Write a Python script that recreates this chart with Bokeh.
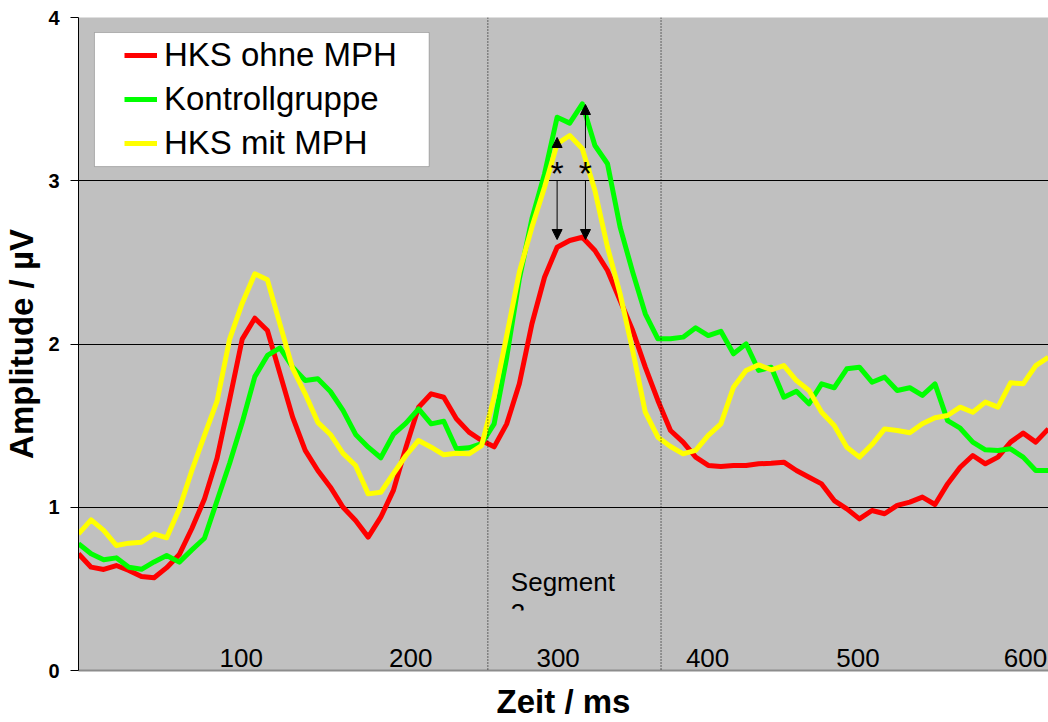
from bokeh.plotting import figure
from bokeh.models import (Range1d, FixedTicker, Span, Arrow, NormalHead, Label,
                          Legend, LegendItem, BoxAnnotation)
from bokeh.embed import file_html
from bokeh.resources import INLINE
from bokeh.core.properties import value

# ---------------- data ----------------
time_ms = list(range(-4, 613, 8))

hks_ohne_mph = [0.715, 0.633, 0.619, 0.643, 0.613, 0.576, 0.568, 0.63, 0.71, 0.87,
                1.05, 1.30, 1.66, 2.03, 2.158, 2.083, 1.817, 1.552, 1.348, 1.225,
                1.123, 1.0, 0.919, 0.817, 0.939, 1.103, 1.368, 1.613, 1.695, 1.674,
                1.542, 1.46, 1.409, 1.37, 1.511, 1.756, 2.124, 2.409, 2.593, 2.634,
                2.654, 2.573, 2.45, 2.266, 2.083, 1.858, 1.654, 1.47, 1.399, 1.307,
                1.256, 1.25, 1.256, 1.256, 1.266, 1.27, 1.276, 1.225, 1.184, 1.143,
                1.041, 0.99, 0.929, 0.98, 0.96, 1.011, 1.031, 1.062, 1.017, 1.143,
                1.245, 1.317, 1.266, 1.307, 1.399, 1.454, 1.399, 1.48]

kontrollgruppe = [0.776, 0.715, 0.678, 0.69, 0.633, 0.62, 0.665, 0.704, 0.664, 0.739,
                  0.81, 1.04, 1.27, 1.52, 1.80, 1.93, 1.976, 1.858, 1.776, 1.787,
                  1.709, 1.593, 1.446, 1.368, 1.303, 1.446, 1.515, 1.603, 1.511, 1.527,
                  1.358, 1.364, 1.389, 1.511, 1.919, 2.399, 2.767, 3.042, 3.389, 3.353,
                  3.471, 3.216, 3.104, 2.716, 2.44, 2.185, 2.032, 2.032, 2.042, 2.099,
                  2.052, 2.078, 1.94, 2.001, 1.838, 1.858, 1.674, 1.711, 1.634, 1.756,
                  1.732, 1.848, 1.858, 1.766, 1.797, 1.715, 1.732, 1.685, 1.756, 1.531,
                  1.484, 1.399, 1.352, 1.348, 1.358, 1.307, 1.225, 1.225]

hks_mit_mph = [0.837, 0.923, 0.858, 0.766, 0.78, 0.786, 0.837, 0.813, 0.99, 1.225,
               1.44, 1.65, 2.03, 2.25, 2.43, 2.393, 2.12, 1.85, 1.695, 1.52,
               1.446, 1.33, 1.256, 1.082, 1.092, 1.205, 1.317, 1.409, 1.368, 1.321,
               1.331, 1.327, 1.378, 1.674, 2.052, 2.44, 2.716, 2.96, 3.226, 3.277,
               3.196, 2.94, 2.593, 2.307, 1.96, 1.582, 1.429, 1.372, 1.327, 1.348,
               1.44, 1.511, 1.735, 1.838, 1.872, 1.842, 1.868, 1.776, 1.715, 1.582,
               1.501, 1.368, 1.307, 1.384, 1.48, 1.47, 1.456, 1.511, 1.548, 1.562,
               1.613, 1.582, 1.644, 1.613, 1.762, 1.756, 1.868, 1.919]

series_names = ["HKS ohne MPH", "Kontrollgruppe", "HKS mit MPH"]
series_values = [hks_ohne_mph, kontrollgruppe, hks_mit_mph]
series_colors = ["#FF0000", "#00FF00", "#FFFF00"]

y_ticks = [0, 1, 2, 3, 4]
x_tick_labels = [100, 200, 300, 400, 500, 600]
segment_bounds = [256, 366]
arrow_x = [300, 318]
arrow_upper = [3.265, 3.467]
arrow_lower = [2.64, 2.64]

FONT = "Liberation Sans"

# ---------------- figure ----------------
p = figure(width=1048, height=722, title=None,
           x_range=Range1d(-4, 612.1), y_range=Range1d(0, 4),
           output_backend="svg", toolbar_location=None,
           min_border_left=77, min_border_right=0,
           min_border_top=17, min_border_bottom=52,
           background_fill_color="#C0C0C0", border_fill_color="white",
           outline_line_color=None)

# y axis
p.yaxis.ticker = FixedTicker(ticks=y_ticks)
p.yaxis.minor_tick_line_color = None
p.yaxis.major_tick_out = 8
p.yaxis.major_tick_in = 0
p.yaxis.major_tick_line_color = "black"
p.yaxis.axis_line_color = "black"
p.yaxis.major_label_standoff = 11
p.yaxis.major_label_text_font = FONT
p.yaxis.major_label_text_font_style = "bold"
p.yaxis.major_label_text_font_size = "20px"
p.yaxis.major_label_text_color = "black"
p.yaxis.axis_label = "Amplitude / µV"
p.yaxis.axis_label_text_font = FONT
p.yaxis.axis_label_text_font_style = "bold"
p.yaxis.axis_label_text_font_size = "33px"
p.yaxis.axis_label_text_color = "black"
p.yaxis.axis_label_standoff = 5

# x axis (tick labels are written inside the plot area)
p.xaxis.ticker = FixedTicker(ticks=[])
p.xaxis.major_tick_out = 0
p.xaxis.major_tick_in = 0
p.xaxis.minor_tick_out = 0
p.xaxis.major_label_standoff = 0
p.xaxis.axis_line_color = "#8c8c8c"
p.xaxis.axis_line_width = 2
p.xaxis.axis_label = "Zeit / ms"
p.xaxis.axis_label_text_font = FONT
p.xaxis.axis_label_text_font_style = "bold"
p.xaxis.axis_label_text_font_size = "33px"
p.xaxis.axis_label_text_color = "black"
p.xaxis.axis_label_standoff = 12

# grid
p.xgrid.visible = False
p.ygrid.ticker = FixedTicker(ticks=[1, 2, 3, 4])
p.ygrid.grid_line_color = "black"
p.ygrid.grid_line_width = 1

# segment boundaries
for b in segment_bounds:
    p.add_layout(Span(location=b, dimension="height", line_color="black",
                      line_width=1, line_dash="1 2"))

# series
renderers = []
for name, vals, col in zip(series_names, series_values, series_colors):
    r = p.line(time_ms, vals, line_color=col, line_width=5, line_join="round")
    renderers.append(r)

# in-plot x tick labels (hand-placed text boxes in the original)
p.text(x=x_tick_labels, y=[0] * len(x_tick_labels),
       text=[str(v) for v in x_tick_labels],
       x_offset=[-1, 11, 1, -7, -14, -4],
       text_align="center", text_baseline="middle", y_offset=-13,
       text_font=value(FONT), text_font_size=value("26px"), text_color="black")

# segment label (second line partly hidden, as in the original text box)
p.add_layout(Label(x=segment_bounds[0], y=0.545, x_offset=23, text="Segment",
                   text_font=FONT, text_font_size="26px", text_color="black",
                   text_baseline="middle"))
p.add_layout(Label(x=segment_bounds[0], y=0.35, x_offset=23, text="3",
                   text_font=FONT, text_font_size="26px", text_color="black",
                   text_baseline="middle"))
p.add_layout(BoxAnnotation(left=segment_bounds[0] + 10, right=segment_bounds[0] + 45,
                           top=0.3675, bottom=0.24, fill_color="#C0C0C0",
                           fill_alpha=1, line_color=None))

# significance arrows
for ax, up, lo in zip(arrow_x, arrow_upper, arrow_lower):
    p.add_layout(Arrow(x_start=ax, y_start=3.2, x_end=ax, y_end=up,
                       line_color="black", line_width=1,
                       end=NormalHead(size=10, fill_color="black", line_color="black")))
    p.add_layout(Arrow(x_start=ax, y_start=3.0, x_end=ax, y_end=lo,
                       line_color="black", line_width=1,
                       end=NormalHead(size=10, fill_color="black", line_color="black")))
    p.add_layout(Label(x=ax, y=3.05, text="*", text_align="center",
                       text_baseline="middle", text_font=FONT,
                       text_font_size="34px", text_color="black"))

# legend box + legend
p.add_layout(BoxAnnotation(left=6.15, right=218.7, top=3.908, bottom=3.087,
                           fill_color="white", fill_alpha=1,
                           line_color="#404040", line_width=1))
legend = Legend(items=[LegendItem(label=n, renderers=[r])
                       for n, r in zip(series_names, renderers)],
                location=(46, 505), padding=0, spacing=0, margin=0,
                glyph_width=33, glyph_height=44, label_height=44,
                label_standoff=7, label_text_font=FONT,
                label_text_font_size="33px", label_text_color="black",
                background_fill_alpha=0, border_line_alpha=0)
p.add_layout(legend)

open("out.html", "w").write(file_html(p, INLINE))
